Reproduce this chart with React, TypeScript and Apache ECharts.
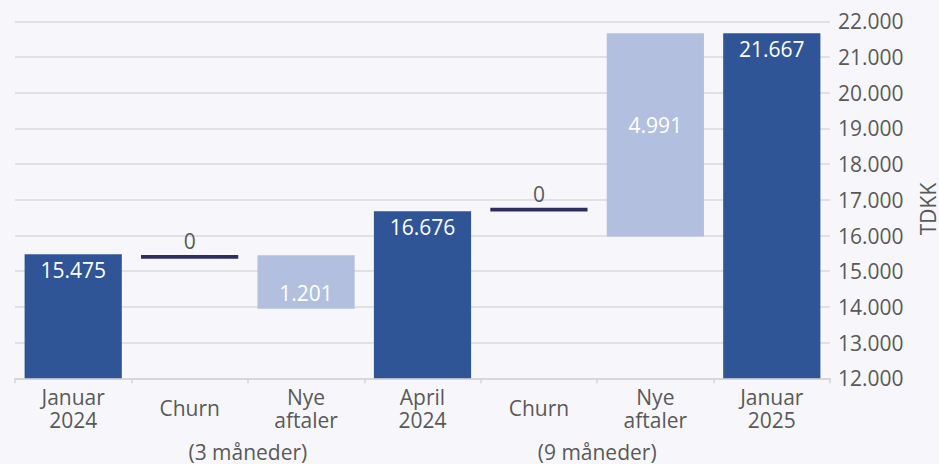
import React, { useEffect, useRef } from "react";
import * as echarts from "echarts";

const categories = ["Januar\n2024", "Churn", "Nye\naftaler", "April\n2024", "Churn", "Nye\naftaler", "Januar\n2025"];
// bottom and top of each drawn bar (TDKK); 0 bottom = bar from axis
const barBottoms = [0, 15350, 13950, 0, 16670, 15970, 0];
const barTops = [15475, 15455, 15450, 16676, 16780, 21667, 21667];
const valueLabels = [15475, 0, 1201, 16676, 0, 4991, 21667];
const barKinds = ["total", "churn", "new", "total", "churn", "new", "total"];
const periodLabels = ["(3 måneder)", "(9 måneder)"];
const periodBoundaries = [[1, 2], [4, 5]];
const yMin = 12000;
const yMax = 22000;
const yStep = 1000;
const unitName = "TDKK";

const fmt = (v: number) => String(Math.round(v)).replace(/\B(?=(\d{3})+(?!\d))/g, ".");

const FONT = "'Open Sans', sans-serif";
const TXT = "#595959";
const FS = 21;
const colors: Record<string, string> = { total: "#2f5597", churn: "#2e2d62", new: "#b3bfdf" };

export default function App() {
  const ref = useRef<HTMLDivElement>(null);
  useEffect(() => {
    if (!ref.current) return;
    const chart = echarts.init(ref.current, undefined, { renderer: "svg" });
    const labelCfg = (i: number) => {
      const k = barKinds[i];
      if (k === "total") return { show: true, position: "insideTop", distance: 5, color: "#ffffff", fontSize: FS };
      if (k === "churn") return { show: true, position: "top", distance: 3, color: TXT, fontSize: FS };
      return { show: true, position: "inside", offset: [0, i === 2 ? 11 : -10], color: "#ffffff", fontSize: FS };
    };
    chart.setOption({
      animation: false,
      backgroundColor: "#f7f7fb",
      textStyle: { fontFamily: FONT },
      grid: { left: 15, right: 109, top: 21.3, bottom: 85.7 },
      xAxis: {
        type: "category",
        data: categories,
        axisLine: { lineStyle: { color: "#d4d4d4", width: 1.5 } },
        axisTick: { show: true, length: 5, lineStyle: { color: "#d4d4d4", width: 1.5 } },
        axisLabel: { color: TXT, fontSize: FS, lineHeight: 23, verticalAlign: "middle", margin: 30, fontFamily: FONT },
      },
      yAxis: {
        type: "value",
        position: "right",
        min: yMin,
        max: yMax,
        interval: yStep,
        axisLine: { show: false },
        axisTick: { show: false },
        axisLabel: { color: TXT, fontSize: FS, margin: 8, formatter: (v: number) => fmt(v), fontFamily: FONT },
        splitLine: { lineStyle: { color: "#dadada", width: 1.5 } },
      },
      series: [
        {
          type: "bar",
          stack: "w",
          barCategoryGap: "16.5%",
          itemStyle: { color: "transparent" },
          data: barBottoms,
          silent: true,
        },
        {
          type: "bar",
          stack: "w",
          data: barTops.map((t, i) => ({
            value: t - barBottoms[i],
            itemStyle: { color: colors[barKinds[i]] },
            label: { ...labelCfg(i), formatter: () => fmt(valueLabels[i]) },
          })),
        },
      ],
    });
    const graphics: any[] = [];
    periodBoundaries.forEach((pair, j) => {
      const a = chart.convertToPixel({ xAxisIndex: 0 }, pair[0]) as number;
      const b = chart.convertToPixel({ xAxisIndex: 0 }, pair[1]) as number;
      graphics.push({
        type: "text",
        x: (a + b) / 2,
        y: 452,
        style: { text: periodLabels[j], fill: TXT, fontSize: FS, fontFamily: FONT, align: "center", verticalAlign: "middle" },
      });
    });
    graphics.push({
      type: "text",
      x: 928,
      y: 209,
      rotation: Math.PI / 2,
      style: { text: unitName, fill: TXT, fontSize: FS, fontFamily: FONT, align: "center", verticalAlign: "middle" },
    });
    chart.setOption({ graphic: graphics });
    return () => chart.dispose();
  }, []);
  return <div ref={ref} style={{ position: "fixed", left: 0, top: 0, width: 939, height: 464 }} />;
}
